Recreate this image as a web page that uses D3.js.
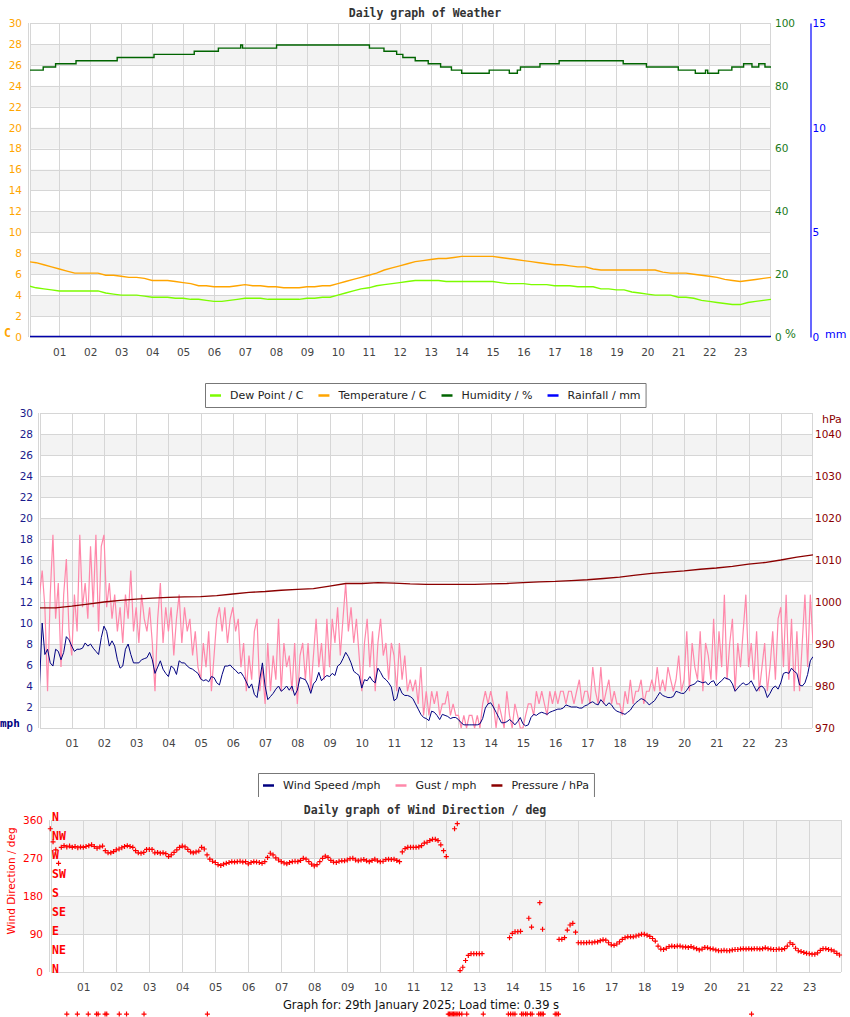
<!DOCTYPE html>
<html>
<head>
<meta charset="utf-8">
<script src="https://cdn.jsdelivr.net/npm/d3@7"></script>
<style>
  body { margin: 0; background: #fff; }
  svg text { font-family: "DejaVu Sans", sans-serif; }
  svg text.mono { font-family: "DejaVu Sans Mono", monospace; font-weight: bold; }
  .title { font-family: "DejaVu Sans Mono", monospace; font-weight: bold; font-size: 11.5px; fill: #333; }
</style>
</head>
<body>
<svg id="chart" width="850" height="1017"></svg>
<script>
// ---- data (29th January 2025) ----

// x axis labels, one per hour line
const hourLabels = ['01','02','03','04','05','06','07','08','09','10','11','12',
                    '13','14','15','16','17','18','19','20','21','22','23']

// weather panel, one reading every 15 minutes from 00:00 to 24:00
const tempC = [7.2,7.1,6.9,6.7, 6.5,6.3,6.1,6.1, 6.1,6.1,5.9,5.9, 5.8,5.7,5.7,5.6,
  5.4,5.4,5.4,5.3, 5.2,5.1,4.9,4.9, 4.8,4.8,4.8,4.9, 5.0,4.9,4.9,4.8,
  4.8,4.7,4.7,4.7, 4.8,4.8,4.9,4.9, 5.1,5.3,5.5,5.7, 5.9,6.1,6.4,6.6,
  6.8,7.0,7.2,7.3, 7.4,7.5,7.5,7.6, 7.7,7.7,7.7,7.7, 7.7,7.6,7.5,7.4,
  7.3,7.2,7.1,7.0, 6.9,6.9,6.8,6.7, 6.7,6.5,6.4,6.4, 6.4,6.4,6.4,6.4,
  6.4,6.4,6.2,6.1, 6.1,6.1,6.0,5.9, 5.8,5.7,5.5,5.4, 5.3,5.4,5.5,5.6, 5.7]
const dewC = [4.9,4.7,4.6,4.5, 4.4,4.4,4.4,4.4, 4.4,4.4,4.2,4.1, 4.0,4.0,4.0,3.9,
  3.8,3.8,3.8,3.7, 3.7,3.6,3.6,3.5, 3.4,3.4,3.5,3.6, 3.7,3.7,3.7,3.6,
  3.6,3.6,3.6,3.6, 3.7,3.7,3.8,3.8, 4.0,4.2,4.4,4.6, 4.7,4.9,5.0,5.1,
  5.2,5.3,5.4,5.4, 5.4,5.4,5.3,5.3, 5.3,5.3,5.3,5.3, 5.3,5.2,5.1,5.1,
  5.1,5.0,5.0,5.0, 4.9,4.9,4.9,4.8, 4.8,4.8,4.6,4.6, 4.5,4.5,4.3,4.2,
  4.1,4.0,4.0,4.0, 3.8,3.8,3.7,3.5, 3.4,3.3,3.2,3.1, 3.1,3.3,3.4,3.5, 3.6]

// humidity only changes in whole percent, so keep the change points
const humHours  = [0, 0.48, 0.88, 1.54, 2.87, 4.06, 5.36, 6.14, 6.86, 6.92, 8.02, 11.02, 11.49, 11.9,
  12.1, 12.5, 12.92, 13.32, 13.67, 14.0, 14.89, 15.54, 15.8, 15.9, 16.53, 17.15, 19.22, 19.97,
  21.0, 21.55, 21.88, 21.95, 22.3, 22.73, 23.11, 23.38, 23.6, 23.8, 24]
const humPct    = [85, 86, 87, 88, 89, 90, 91, 92, 93, 92, 93, 92, 91, 90,
  89, 88, 87, 86, 85, 84, 85, 84, 85, 86, 87, 88, 87, 86,
  85, 84, 85, 84, 85, 86, 87, 86, 87, 86, 86]

const rainHours = [0, 24]
const rainMm    = [0, 0]

// wind panel, one reading every 5 minutes (12 per row = one hour)
const windMph = [
  4.1,10.0,7.0,7.5,6.2,5.9,7.5,7.3,6.5,7.2,8.7,8.4,
  7.8,7.3,7.5,7.5,7.6,8.1,7.8,8.0,7.6,7.3,7.0,8.6,
  9.7,9.2,7.8,8.3,7.8,6.5,5.7,5.9,7.5,8.0,7.0,6.2,
  6.2,6.2,6.5,6.6,6.7,7.2,6.5,5.2,5.8,6.4,5.6,5.2,
  4.9,5.9,5.7,5.1,6.4,6.2,6.2,5.9,5.7,5.6,5.4,5.2,
  4.7,4.5,4.6,4.4,4.9,4.8,4.3,4.1,5.1,5.9,5.9,6.0,
  5.7,5.5,5.2,5.3,4.9,4.4,3.8,4.2,3.2,2.9,4.6,6.2,
  4.0,2.7,3.0,3.3,3.7,4.0,3.5,3.7,4.0,3.6,4.0,3.1,
  3.6,4.8,4.7,4.6,4.1,3.3,4.2,4.5,5.3,4.5,4.8,5.0,
  4.9,5.2,5.0,5.9,6.1,6.6,7.2,6.8,6.2,5.4,5.2,5.0,
  3.8,4.6,4.5,4.9,4.5,4.3,5.7,5.3,4.8,4.6,4.3,3.9,
  2.6,2.8,3.9,3.3,3.1,3.1,3.0,2.8,2.3,1.8,1.3,1.0,
  0.9,0.7,1.6,1.5,1.2,0.8,1.3,1.2,1.1,0.9,1.0,1.0,
  0.8,0.5,0.3,0.3,0.3,0.3,0.3,0.3,0.4,0.9,1.9,2.3,
  2.4,2.0,1.5,1.0,0.5,0.5,0.6,0.8,0.6,0.3,0.6,1.0,
  0.4,0.2,0.3,1.0,1.3,1.2,1.4,1.5,1.4,1.3,1.5,1.6,
  1.7,1.8,1.8,1.9,2.2,2.1,2.0,2.0,2.0,1.9,1.9,2.1,
  2.2,2.4,2.5,2.3,2.2,2.7,2.4,2.1,2.4,2.2,1.8,1.6,
  1.5,1.4,1.3,1.5,1.7,2.1,2.4,2.6,2.8,2.7,2.5,2.2,
  2.4,2.6,3.0,3.4,3.1,3.0,2.9,2.9,3.0,3.5,3.4,3.3,
  3.3,3.6,4.0,4.1,4.2,4.5,4.4,4.3,4.4,4.1,4.4,4.5,
  4.0,4.3,4.5,4.8,4.7,4.6,4.2,3.5,3.8,4.1,4.3,4.1,
  4.2,4.5,4.0,3.5,3.9,4.0,3.7,2.9,3.3,3.8,4.0,3.7,
  4.3,5.2,5.3,5.2,5.7,5.4,5.2,4.1,4.0,4.3,5.1,6.4,
  6.8]
const gustMph = [
  12.7,15.0,11.5,3.5,12.7,18.4,10.4,13.8,5.8,12.7,16.1,9.2,
  6.9,12.7,9.2,18.4,11.5,13.8,10.4,17.3,11.5,18.4,9.2,17.3,
  18.4,11.5,13.8,10.4,12.7,9.2,11.5,8.1,12.7,10.4,15.0,9.2,
  11.5,8.1,12.7,10.4,9.2,11.5,8.1,3.5,10.4,13.8,8.1,11.5,
  9.2,11.5,6.9,10.4,12.7,8.1,11.5,9.2,10.4,6.9,9.2,5.8,
  4.6,8.1,5.8,9.2,3.5,6.9,10.4,11.5,9.2,11.5,8.1,10.4,
  11.5,9.2,10.4,5.8,8.1,3.5,6.9,4.6,9.2,10.4,3.5,5.8,
  2.3,8.1,3.5,6.9,4.6,10.4,3.5,8.1,5.8,6.9,3.5,8.1,
  2.3,6.9,8.1,4.6,8.1,3.5,6.9,10.4,5.8,8.1,4.6,10.4,
  5.8,10.4,8.1,11.5,6.9,10.4,13.8,9.2,11.5,8.1,10.4,6.9,
  3.5,8.1,10.4,5.8,9.2,3.5,8.1,10.4,6.9,8.1,4.6,8.1,
  6.9,3.5,8.1,4.6,6.9,3.5,4.6,3.5,4.6,2.3,5.8,1.2,
  3.5,1.2,3.5,2.3,3.5,1.2,2.3,2.3,3.5,1.2,2.3,1.2,
  1.2,0,1.2,0,1.2,1.2,0,1.2,0,2.3,3.5,2.3,
  3.5,2.3,0,2.3,1.2,0,3.5,1.2,0,2.3,1.2,0,
  0,1.2,2.3,2.3,1.2,3.5,2.3,3.5,2.3,1.2,3.5,2.3,
  3.5,2.3,3.5,3.5,2.3,3.5,3.5,2.3,3.5,4.6,2.3,3.5,
  3.5,2.3,5.8,3.5,2.3,5.8,2.3,3.5,4.6,2.3,3.5,2.3,
  2.3,1.2,3.5,2.3,4.6,2.3,3.5,3.5,4.6,2.3,3.5,3.5,
  4.6,3.5,5.8,3.5,4.6,3.5,5.8,4.6,3.5,4.6,6.9,3.5,
  4.6,9.2,3.5,8.1,5.8,4.6,9.2,3.5,8.1,6.9,4.6,10.4,
  4.6,9.2,5.8,12.7,4.6,8.1,10.4,3.5,8.1,5.8,9.2,12.7,
  5.8,8.1,4.6,9.2,3.5,5.8,8.1,3.5,5.8,9.2,4.6,10.4,
  11.5,5.8,12.7,4.6,10.4,3.5,9.2,3.5,8.1,12.7,5.8,12.7,
  8.1]

// pressure every 30 minutes
const pressureHpa = [998.6,998.6,999.0,999.5,1000.0,1000.4,1000.7,1000.9,1001.1,1001.2,
  1001.3,1001.5,1001.9,1002.3,1002.5,1002.8,1003.0,1003.2,1003.8,1004.4,
  1004.4,1004.6,1004.5,1004.3,1004.2,1004.2,1004.2,1004.2,1004.3,1004.4,
  1004.6,1004.8,1004.9,1005.1,1005.3,1005.6,1005.9,1006.4,1006.8,1007.1,
  1007.4,1007.8,1008.1,1008.5,1009.0,1009.4,1010.0,1010.7,1011.2]

// wind direction every 5 minutes, null = no reading
const windDeg = [
  340,309,290,258,296,300,297,299,296,298,295,297,
  296,298,300,302,298,294,297,299,288,283,283,286,
  290,292,295,298,300,298,296,288,283,282,284,291,
  291,291,283,284,282,283,281,274,278,284,290,296,
  299,297,291,285,283,285,287,296,292,278,268,263,
  260,255,253,256,258,260,262,261,262,263,261,262,
  257,260,262,261,260,258,262,272,282,278,271,266,
  262,259,257,260,262,263,262,265,270,268,262,256,
  252,255,262,270,275,272,265,261,260,263,264,264,
  266,269,270,266,264,266,267,264,262,265,268,264,
  262,263,267,268,267,268,265,262,285,293,296,296,
  296,296,297,300,306,308,312,315,315,312,302,288,
  274,null,null,340,352,4,12,28,40,44,44,44,
  44,44,null,null,null,null,null,null,null,null,null,82,
  92,96,96,97,null,null,128,107,null,null,165,102,
  null,null,null,null,null,78,78,82,100,112,116,95,
  70,70,70,70,71,70,72,72,75,77,76,70,
  65,64,67,72,78,82,84,84,84,86,88,90,
  90,88,85,80,74,62,55,54,57,61,62,61,
  62,62,60,60,59,61,58,56,53,55,59,58,
  56,55,53,51,51,52,51,51,53,54,54,55,
  56,55,56,55,56,56,55,56,58,56,55,54,
  54,55,54,56,62,70,66,57,51,49,47,45,
  44,43,43,46,52,56,56,54,53,50,45,41]
// calm readings, logged as -99 degrees
const calmHours = [0.5,0.82,1.15,1.4,1.45,1.66,1.71,2.09,2.31,2.84,4.76,
  12.06,12.1,12.14,12.18,12.22,12.26,12.3,12.35,12.4,12.47,12.62,13.12,
  13.88,13.95,14.02,14.08,14.28,14.33,14.4,14.45,14.55,14.6,14.8,14.85,14.9,14.94,
  15.3,15.35,15.4,21.25]
const calmValue = -99

// axis ticks
const tempTicks = [0,2,4,6,8,10,12,14,16,18,20,22,24,26,28,30]
const humTicks  = [0,20,40,60,80,100]
const rainTicks = [0,5,10,15]
const mphTicks  = [0,2,4,6,8,10,12,14,16,18,20,22,24,26,28,30]
const hpaTicks  = [970,980,990,1000,1010,1020,1030,1040]
const degTicks  = [0,90,180,270,360]
const compassDeg    = [0,45,90,135,180,225,270,315,360]
const compassLabels = ['N','NE','E','SE','S','SW','W','NW','N']

const legend1 = { names: ['Dew Point / C','Temperature / C','Humidity / %','Rainfall / mm'],
                  colors: ['#7cfc00','#ffa500','#006400','#0000ff'] }
const legend2 = { names: ['Wind Speed /mph','Gust / mph','Pressure / hPa'],
                  colors: ['#000080','#ff88aa','#8b0000'] }

// ---- drawing ----
const svg = d3.select('#chart')
const hourTicks = hourLabels.map((d, i) => i + 1)
const GRID = '#d6d6d6'

/**
 * Bands, grid and hour axis for one panel. box is the plot rectangle.
 */
function frame(id, x, y, ticks, box, labelPad) {
  const g = svg.append('g')
  for (let i = 1; i < ticks.length - 1; i += 2) {
    g.append('rect')
      .attr('x', box.left).attr('width', box.right - box.left)
      .attr('y', y(ticks[i + 1])).attr('height', y(ticks[i]) - y(ticks[i + 1]))
      .attr('fill', '#f3f3f3')
  }
  g.selectAll(null).data(ticks).enter().append('line')
      .attr('x1', box.left).attr('x2', box.right)
      .attr('y1', d => Math.round(y(d)) + 0.5).attr('y2', d => Math.round(y(d)) + 0.5)
      .attr('stroke', GRID)
  g.selectAll(null).data(hourTicks).enter().append('line')
      .attr('x1', d => Math.round(x(d)) + 0.5).attr('x2', d => Math.round(x(d)) + 0.5)
      .attr('y1', box.top).attr('y2', box.bottom)
      .attr('stroke', GRID)
  // frame edges (left one is doubled in the original)
  ;[box.left - 1.5, box.left + 0.5, box.right + 0.5].forEach(v => {
    g.append('line').attr('x1', v).attr('x2', v).attr('y1', box.top).attr('y2', box.bottom)
      .attr('stroke', GRID)
  })
  const ax = g.append('g')
      .attr('transform', 'translate(0,' + box.bottom + ')')
      .call(d3.axisBottom(x).tickValues(hourTicks).tickFormat(d => hourLabels[d - 1])
            .tickSize(0).tickPadding(labelPad))
  ax.select('.domain').remove()
  ax.selectAll('text').attr('fill', '#444').attr('font-size', 10.5)

  svg.append('clipPath').attr('id', id)
    .append('rect').attr('x', box.left).attr('y', box.top - 2)
      .attr('width', box.right - box.left + 1).attr('height', box.bottom - box.top + 3)
  return g
}

function yAxis(axis, tx, color, domainColor) {
  const a = svg.append('g').attr('transform', 'translate(' + tx + ',0)').call(axis)
  if (domainColor) {
    a.select('.domain').attr('stroke', domainColor).attr('stroke-width', 1.2)
  } else {
    a.select('.domain').remove()
  }
  a.selectAll('text').attr('fill', color).attr('font-size', 10.5)
  return a
}

function label(txt, x, y, color, opts = {}) {
  return svg.append('text').attr('x', x).attr('y', y).attr('dy', '0.35em')
      .attr('class', opts.bold ? 'mono' : null)
      .attr('fill', color).attr('font-size', opts.size || 11)
      .attr('text-anchor', opts.anchor || 'start')
      .text(txt)
}

function legend(items, top, hasBottom) {
  const g = svg.append('g')
  const cy = top + 12
  let cursor = 0
  const parts = items.names.map((name, i) => {
    const sw = g.append('line').attr('stroke', items.colors[i]).attr('stroke-width', 2.5)
        .attr('y1', cy + 0.5).attr('y2', cy + 0.5)
    const t = g.append('text').attr('y', cy).attr('dy', '0.35em')
        .attr('font-size', 11).attr('fill', '#222').text(name)
    const w = t.node().getComputedTextLength()
    const p = { sw, t, x: cursor }
    cursor += 20 + w + 15
    return p
  })
  const total = cursor - 15 + 10
  const left = Math.round(425.5 - total / 2)
  parts.forEach(p => {
    p.sw.attr('x1', left + 5 + p.x).attr('x2', left + 16 + p.x)
    p.t.attr('x', left + 25 + p.x)
  })
  const right = left + total, bottom = top + 24
  const d = hasBottom
    ? `M${left + 0.5},${top + 0.5}H${right + 0.5}V${bottom + 0.5}H${left + 0.5}Z`
    : `M${left + 0.5},${bottom}V${top + 0.5}H${right + 0.5}V${bottom}`
  g.insert('path', ':first-child').attr('d', d).attr('fill', '#fff').attr('stroke', '#777')
}

// ---------- panel 1: weather ----------
const box1 = { left: 30, right: 770, top: 23, bottom: 337 }
const x1 = d3.scaleLinear().domain([0, 24]).range([28.35, 771.15])
const yT = d3.scaleLinear().domain([0, 30]).range([box1.bottom, box1.top])
const yH = d3.scaleLinear().domain([0, 100]).range([box1.bottom, box1.top])
const yR = d3.scaleLinear().domain([0, 15]).range([box1.bottom, box1.top])

svg.append('text').attr('class', 'title').attr('x', 425).attr('y', 17)
    .attr('text-anchor', 'middle').text('Daily graph of Weather')
frame('clip1', x1, yT, tempTicks, box1, 12)

yAxis(d3.axisLeft(yT).tickValues(tempTicks).tickSize(0).tickPadding(8), box1.left, '#ffa500')
yAxis(d3.axisRight(yH).tickValues(humTicks).tickSize(0).tickPadding(5), box1.right, '#1a7a1a')
yAxis(d3.axisRight(yR).tickValues(rainTicks).tickSize(0).tickPadding(2), 810.5, '#0000ff', '#0000ff')
label('C', 4, 333, '#ffa500', { bold: true, size: 11.5 })
label('%', 785, 334, '#1a7a1a', { size: 11.5 })
label('mm', 825, 334, '#0000ff')

const q = i => i * 0.25
const p1 = svg.append('g').attr('clip-path', 'url(#clip1)')
p1.append('path').datum(dewC)
    .attr('d', d3.line().x((d, i) => x1(q(i))).y(d => yT(d)))
    .attr('fill', 'none').attr('stroke', '#7cfc00').attr('stroke-width', 1.4)
p1.append('path').datum(tempC)
    .attr('d', d3.line().x((d, i) => x1(q(i))).y(d => yT(d)))
    .attr('fill', 'none').attr('stroke', '#ffa500').attr('stroke-width', 1.4)
p1.append('path').datum(humPct)
    .attr('d', d3.line().curve(d3.curveStepAfter).x((d, i) => x1(humHours[i])).y(d => yH(d)))
    .attr('fill', 'none').attr('stroke', '#006400').attr('stroke-width', 1.4)
p1.append('path').datum(rainMm)
    .attr('d', d3.line().x((d, i) => x1(rainHours[i])).y(d => yR(d) - 0.5))
    .attr('fill', 'none').attr('stroke', '#0000aa').attr('stroke-width', 1.5)

// ---------- panel 2: wind speed / gust / pressure ----------
const box2 = { left: 40, right: 812, top: 413, bottom: 728 }
const x2 = d3.scaleLinear().domain([0, 24]).range([39.5, 813])
const yW = d3.scaleLinear().domain([0, 30]).range([box2.bottom, box2.top])
const yP = d3.scaleLinear().domain([970, 1045]).range([box2.bottom, box2.top])

frame('clip2', x2, yW, mphTicks, box2, 11.5)
yAxis(d3.axisLeft(yW).tickValues(mphTicks).tickSize(0).tickPadding(7), box2.left, '#1a1a8c')
yAxis(d3.axisRight(yP).tickValues(hpaTicks).tickFormat(d3.format('d')).tickSize(0).tickPadding(3),
      box2.right, '#8b0000')
label('mph', 0, 723, '#000080', { bold: true, size: 11 })
label('hPa', 822, 419, '#8b0000')

const f = i => i / 12
const p2 = svg.append('g').attr('clip-path', 'url(#clip2)')
p2.append('path').datum(gustMph)
    .attr('d', d3.line().x((d, i) => x2(f(i))).y(d => yW(d)))
    .attr('fill', 'none').attr('stroke', '#ff88aa').attr('stroke-width', 1.2)
p2.append('path').datum(windMph)
    .attr('d', d3.line().x((d, i) => x2(f(i))).y(d => yW(d)))
    .attr('fill', 'none').attr('stroke', '#000080').attr('stroke-width', 1)
p2.append('path').datum(pressureHpa)
    .attr('d', d3.line().x((d, i) => x2(i * 0.5)).y(d => yP(d)))
    .attr('fill', 'none').attr('stroke', '#8b0000').attr('stroke-width', 1.3)

legend(legend1, 383, true)

// ---------- panel 3: wind direction ----------
const box3 = { left: 51, right: 841, top: 820, bottom: 972 }
const x3 = d3.scaleLinear().domain([0, 24]).range([50.3, 842.3])
const yD = d3.scaleLinear().domain([0, 360]).range([972.3, 820.3])

svg.append('rect').attr('x', 0).attr('y', 798).attr('width', 850).attr('height', 219).attr('fill', '#fff')
svg.append('text').attr('class', 'title').attr('x', 425).attr('y', 814)
    .attr('text-anchor', 'middle').text('Daily graph of Wind Direction / deg')
frame('clip3', x3, yD, degTicks, box3, 11.5)
yAxis(d3.axisLeft(yD).tickValues(degTicks).tickSize(0).tickPadding(8), box3.left, '#ff0000')
svg.append('text').attr('transform', 'translate(11,881) rotate(-90)')
    .attr('text-anchor', 'middle').attr('dy', '0.35em')
    .attr('fill', '#ff0000').attr('font-size', 10.5).text('Wind Direction / deg')
svg.selectAll(null).data(compassDeg).enter().append('text')
    .attr('class', 'mono')
    .attr('x', 52).attr('y', d => yD(d) - 3).attr('dy', '0.35em')
    .attr('font-size', 11.5).attr('fill', '#ff0000')
    .text((d, i) => compassLabels[i])

const cross = 'M-2.5,0H2.5M0,-2.5V2.5'
const dirPts = windDeg.map((d, i) => ({ h: f(i), v: d })).filter(d => d.v !== null)
  .concat(calmHours.map(h => ({ h: h, v: calmValue })))
svg.append('g').selectAll('path').data(dirPts).enter().append('path')
    .attr('transform', d => 'translate(' + x3(d.h) + ',' + yD(d.v) + ')')
    .attr('d', cross).attr('stroke', '#ff0000').attr('stroke-width', 1.2)

legend(legend2, 773, false)

svg.append('text').attr('x', 421).attr('y', 1005).attr('dy', '0.35em')
    .attr('text-anchor', 'middle').attr('font-size', 11.5).attr('fill', '#111')
    .text('Graph for: 29th January 2025; Load time: 0.39 s')
</script>
</body>
</html>
